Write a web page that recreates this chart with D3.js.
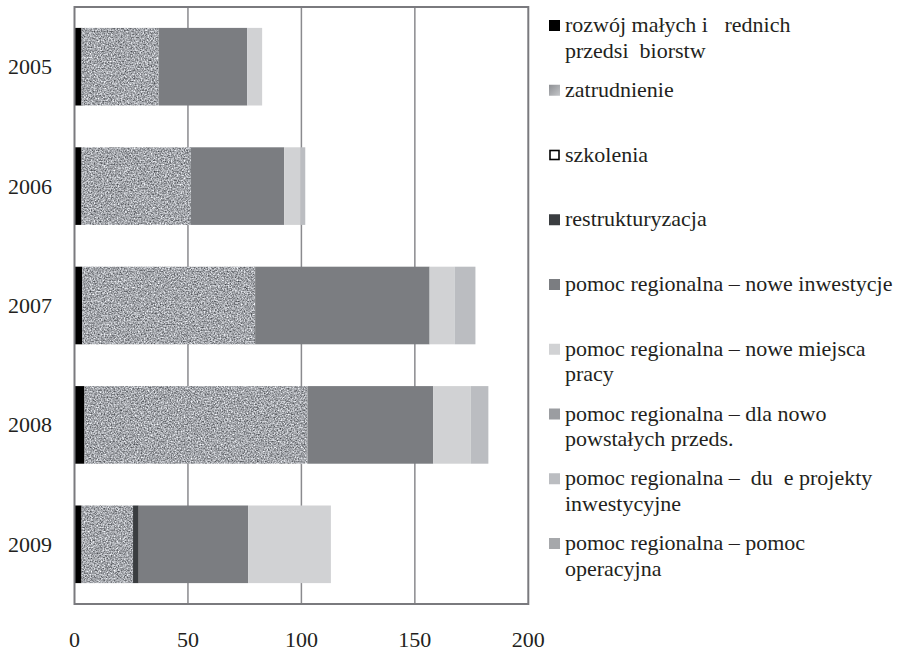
<!DOCTYPE html>
<html>
<head>
<meta charset="utf-8">
<script src="https://cdn.jsdelivr.net/npm/d3@7/dist/d3.min.js"></script>
<style>
  html, body { margin: 0; padding: 0; background: #fff; }
  svg { display: block; }
  svg text { font-family: "Liberation Serif", "Times New Roman", "DejaVu Serif", serif; }
</style>
</head>
<body>
<svg id="chart" width="906" height="653"></svg>
<script>
const FONT = "'Liberation Serif', 'Times New Roman', 'DejaVu Serif', serif";
const years = ["2005", "2006", "2007", "2008", "2009"];
const xTicks = [0, 50, 100, 150, 200];

// values per series, one entry per year
const rozwojMsp = [3.1, 3.1, 3.4, 4.4, 3.1];
const zatrudnienie = [34.0, 48.2, 76.2, 98.3, 22.7];
const szkolenia = [0, 0, 0, 0, 0];
const restrukturyzacja = [0, 0, 0, 0, 2.5];
const noweInwestycje = [39.0, 41.1, 76.9, 55.4, 48.2];
const noweMiejscaPracy = [6.6, 7.1, 11.0, 16.5, 36.5];
const dlaNowoPowstalych = [0, 0, 0, 0, 0];
const duzeProjekty = [0, 2.2, 9.2, 7.8, 0];
const pomocOperacyjna = [0, 0, 0, 0, 0];

const seriesKeys = ["msp", "zatr", "szk", "restr", "inw", "miejsca", "nowo", "duze", "oper"];
const seriesValues = [rozwojMsp, zatrudnienie, szkolenia, restrukturyzacja, noweInwestycje,
    noweMiejscaPracy, dlaNowoPowstalych, duzeProjekty, pomocOperacyjna];
const legendLabels = [
    ["rozwój małych i   rednich", "przedsi  biorstw"],
    ["zatrudnienie"],
    ["szkolenia"],
    ["restrukturyzacja"],
    ["pomoc regionalna – nowe inwestycje"],
    ["pomoc regionalna – nowe miejsca", "pracy"],
    ["pomoc regionalna – dla nowo", "powstałych przeds."],
    ["pomoc regionalna –  du  e projekty", "inwestycyjne"],
    ["pomoc regionalna – pomoc", "operacyjna"]
];
const fills = {
    msp: "#000000", zatr: "#a5a7ab", szk: "#ffffff", restr: "#3a3d40",
    inw: "#7b7d81", miejsca: "#d1d2d4", nowo: "#9b9da1", duze: "#bbbdc1", oper: "#a6a8ab"
};

const svg = d3.select("#chart");
const plot = { left: 74.5, right: 528.3, top: 7, bottom: 604 };

// grainy grey texture used for "zatrudnienie"
const defs = svg.append("defs");
const filter = defs.append("filter").attr("id", "grain")
    .attr("x", 0).attr("y", 0).attr("width", 1).attr("height", 1)
    .attr("color-interpolation-filters", "sRGB");
filter.append("feTurbulence").attr("type", "fractalNoise")
    .attr("baseFrequency", 0.7).attr("numOctaves", 3).attr("seed", 7).attr("result", "noise");
filter.append("feColorMatrix").attr("in", "noise").attr("type", "matrix")
    .attr("values", "1.0 0 0 0 0.14  1.0 0 0 0 0.15  1.0 0 0 0 0.17  0 0 0 0 1")
    .attr("result", "grey");
filter.append("feComposite").attr("in", "grey").attr("in2", "SourceGraphic").attr("operator", "in");

const grad = defs.append("linearGradient").attr("id", "legendGrain")
    .attr("x1", 0).attr("y1", 0).attr("x2", 1).attr("y2", 1);
grad.append("stop").attr("offset", 0).attr("stop-color", "#8d8f93");
grad.append("stop").attr("offset", 1).attr("stop-color", "#c4c6c9");

const table = years.map((year, i) => {
    const row = { year };
    seriesKeys.forEach((key, k) => { row[key] = seriesValues[k][i]; });
    return row;
});
const stacked = d3.stack().keys(seriesKeys)(table);

const x = d3.scaleLinear().domain([0, 200]).range([plot.left, plot.right]);
const y = d3.scaleBand().domain(years).range([plot.top, plot.bottom])
    .paddingInner(0.35).paddingOuter(0.175);

// grid lines
svg.append("g")
    .selectAll("line")
    .data(xTicks.slice(1, -1))
    .join("line")
    .attr("x1", (d) => x(d)).attr("x2", (d) => x(d))
    .attr("y1", plot.top).attr("y2", plot.bottom)
    .attr("stroke", "#8a8a8e").attr("stroke-width", 1.5);

// bars
svg.append("g")
    .selectAll("g")
    .data(stacked)
    .join("g")
    .attr("fill", (s) => fills[s.key])
    .attr("filter", (s) => s.key === "zatr" ? "url(#grain)" : null)
    .selectAll("rect")
    .data((s) => s.filter((d) => d[1] - d[0] > 0))
    .join("rect")
    .attr("x", (d) => x(d[0]))
    .attr("width", (d) => x(d[1]) - x(d[0]))
    .attr("y", (d) => y(d.data.year))
    .attr("height", y.bandwidth());

// frame
svg.append("rect")
    .attr("x", plot.left).attr("y", plot.top)
    .attr("width", plot.right - plot.left).attr("height", plot.bottom - plot.top)
    .attr("fill", "none").attr("stroke", "#7a7a7e").attr("stroke-width", 2);

// x axis labels
svg.append("g")
    .selectAll("text")
    .data(xTicks)
    .join("text")
    .attr("x", (d) => x(d)).attr("y", 647)
    .attr("text-anchor", "middle")
    .attr("font-family", FONT)
    .attr("font-size", 22).attr("fill", "#231f20")
    .text((d) => d);

// y axis labels
svg.append("g")
    .selectAll("text")
    .data(years)
    .join("text")
    .attr("x", 52).attr("y", (d) => y(d) + y.bandwidth() / 2 + 7.5)
    .attr("text-anchor", "end")
    .attr("font-family", FONT)
    .attr("font-size", 22).attr("fill", "#231f20")
    .text((d) => d);

// legend
const legendStep = 64.75;
const legend = svg.append("g")
    .selectAll("g")
    .data(seriesKeys)
    .join("g")
    .attr("transform", (d, i) => `translate(0, ${32 + i * legendStep})`);

legend.append("rect")
    .attr("x", (d) => d === "szk" ? 550 : 549)
    .attr("y", (d) => d === "szk" ? -11 : -12)
    .attr("width", (d) => d === "szk" ? 9 : 11)
    .attr("height", (d) => d === "szk" ? 9 : 11)
    .attr("fill", (d) => d === "zatr" ? "url(#legendGrain)" : fills[d])
    .attr("stroke", (d) => d === "szk" ? "#000" : "none")
    .attr("stroke-width", 1.6);

legend.append("text")
    .attr("x", 565)
    .attr("font-family", FONT)
    .attr("font-size", 22).attr("fill", "#231f20")
    .attr("xml:space", "preserve")
    .style("white-space", "pre")
    .selectAll("tspan")
    .data((d, i) => legendLabels[i])
    .join("tspan")
    .attr("x", 565)
    .attr("y", (d, j) => j * 25.5)
    .text((d) => d);
</script>
</body>
</html>
